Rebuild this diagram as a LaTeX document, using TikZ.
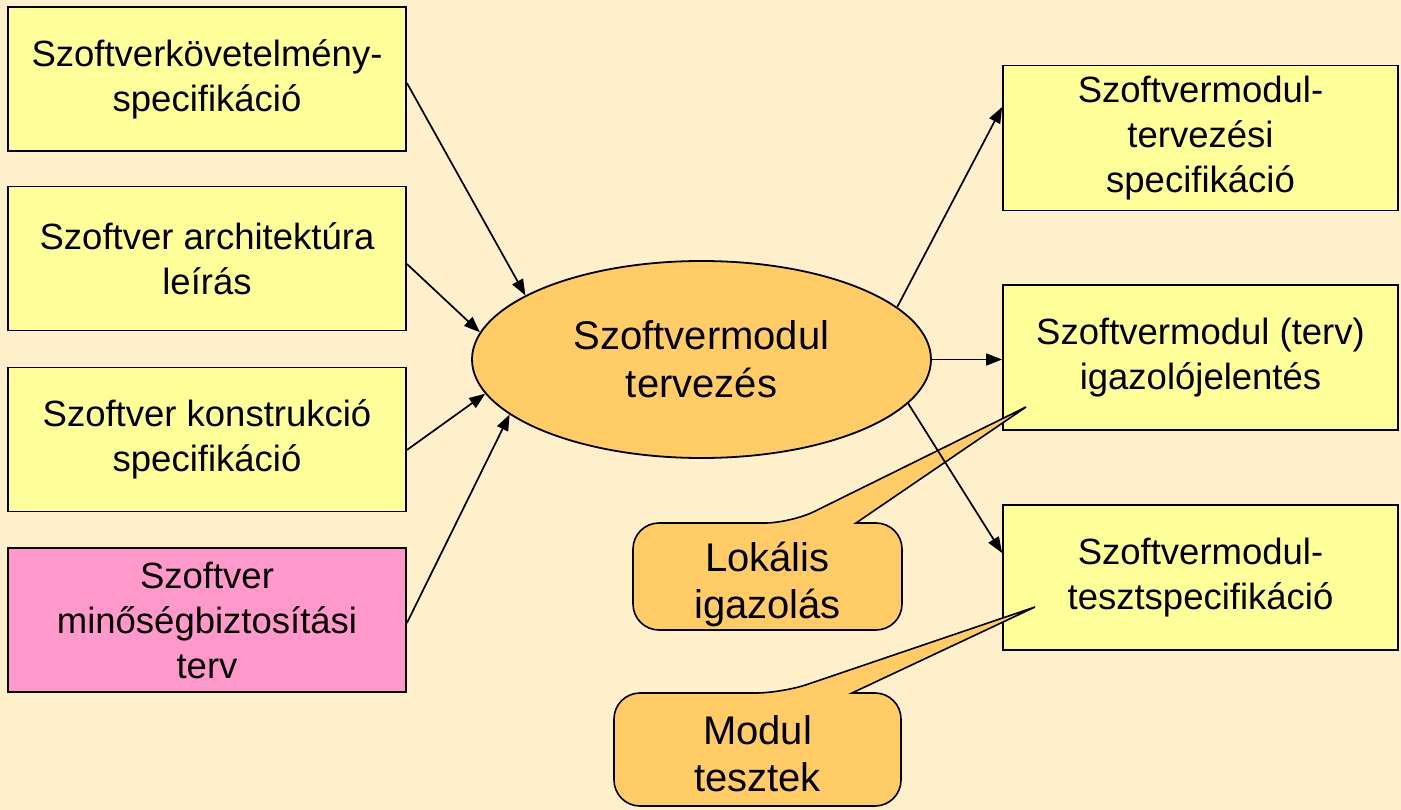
\documentclass[tikz,border=0pt]{standalone}
\usepackage{fontspec}
\setmainfont{Liberation Sans}
\usetikzlibrary{arrows.meta,shapes.geometric}
\definecolor{bgcream}{HTML}{FFF0CC}
\definecolor{boxyellow}{HTML}{FFFF99}
\definecolor{boxpink}{HTML}{FF99CC}
\definecolor{calloutorange}{HTML}{FFCC66}
\begin{document}
\begin{tikzpicture}[x=1pt,y=-1pt,
  box/.style={draw=black, line width=1.8pt, fill=boxyellow, minimum width=398pt,
    minimum height=144pt, inner sep=0pt, align=center,
    font=\fontsize{36.5}{45}\selectfont},
  rbox/.style={box, minimum width=395pt, minimum height=145pt},
  arr/.style={-{Triangle[length=16pt,width=12pt]}, line width=1.7pt},
  callout/.style={draw=black, line width=1.6pt, fill=calloutorange},
  ctext/.style={align=center, inner sep=0pt, font=\fontsize{40}{47}\selectfont}
]
\fill[bgcream] (0,0) rectangle (1401,810);
\useasboundingbox (0,0) rectangle (1401,810);

% left boxes
\node[box] (b1) at (207,79) {Szoftverkövetelmény-\\specifikáció};
\node[box] (b2) at (207,258.5) {Szoftver architektúra\\leírás};
\node[box] (b3) at (207,439.5) {Szoftver konstrukció\\specifikáció};
\node[box, fill=boxpink] (b4) at (207,620) {Szoftver\\minőségbiztosítási\\terv};

% right boxes
\node[rbox] (rb1) at (1200.5,138) {Szoftvermodul-\\tervezési\\specifikáció};
\node[rbox] (rb2) at (1200.5,357.5) {Szoftvermodul (terv)\\igazolójelentés};
\node[rbox] (rb3) at (1200.5,577.5) {Szoftvermodul-\\tesztspecifikáció};

% central ellipse
\node[ellipse, draw=black, line width=1.8pt, fill=calloutorange,
  minimum width=459pt, minimum height=197pt, inner sep=0pt, align=center,
  font=\fontsize{40}{48}\selectfont] (ell) at (701.5,359.5) {Szoftvermodul\\tervezés};

% callouts
\coordinate (t1) at (1026,407);
\coordinate (t2) at (1035,607);
\draw[callout] (633,575) [rounded corners=26pt] -- (633,523) -- (791,523) [sharp corners] -- (t1)
  -- (856,523) [rounded corners=26pt] -- (902,523) -- (902,630) -- (633,630) -- cycle;
\node[ctext] (lok) at (767.5,584) {Lokális\\igazolás};

\draw[callout] (614,750) [rounded corners=26pt] -- (614,693) -- (782,693) [sharp corners] -- (t2)
  -- (852,693) [rounded corners=26pt] -- (901,693) -- (901,806) -- (614,806) -- cycle;
\node[ctext] (mod) at (757.5,754) {Modul\\tesztek};

% arrows
\draw[arr] ([yshift=-4pt]b1.east) -- (ell.160.6);
\draw[arr] ([yshift=-5.5pt]b2.east) -- (ell.173);
\draw[arr] ([yshift=-10.5pt]b3.east) -- (ell.189.3);
\draw[arr] ([yshift=-3pt]b4.east) -- (ell.196.8);
\draw[arr] (ell.15.2) -- ([yshift=31pt]rb1.west);
\draw[arr] (ell.east) -- (ell.east -| rb2.west);
\draw[arr] (ell.-12.2) -- ([yshift=24.5pt]rb3.west);
\end{tikzpicture}
\end{document}
